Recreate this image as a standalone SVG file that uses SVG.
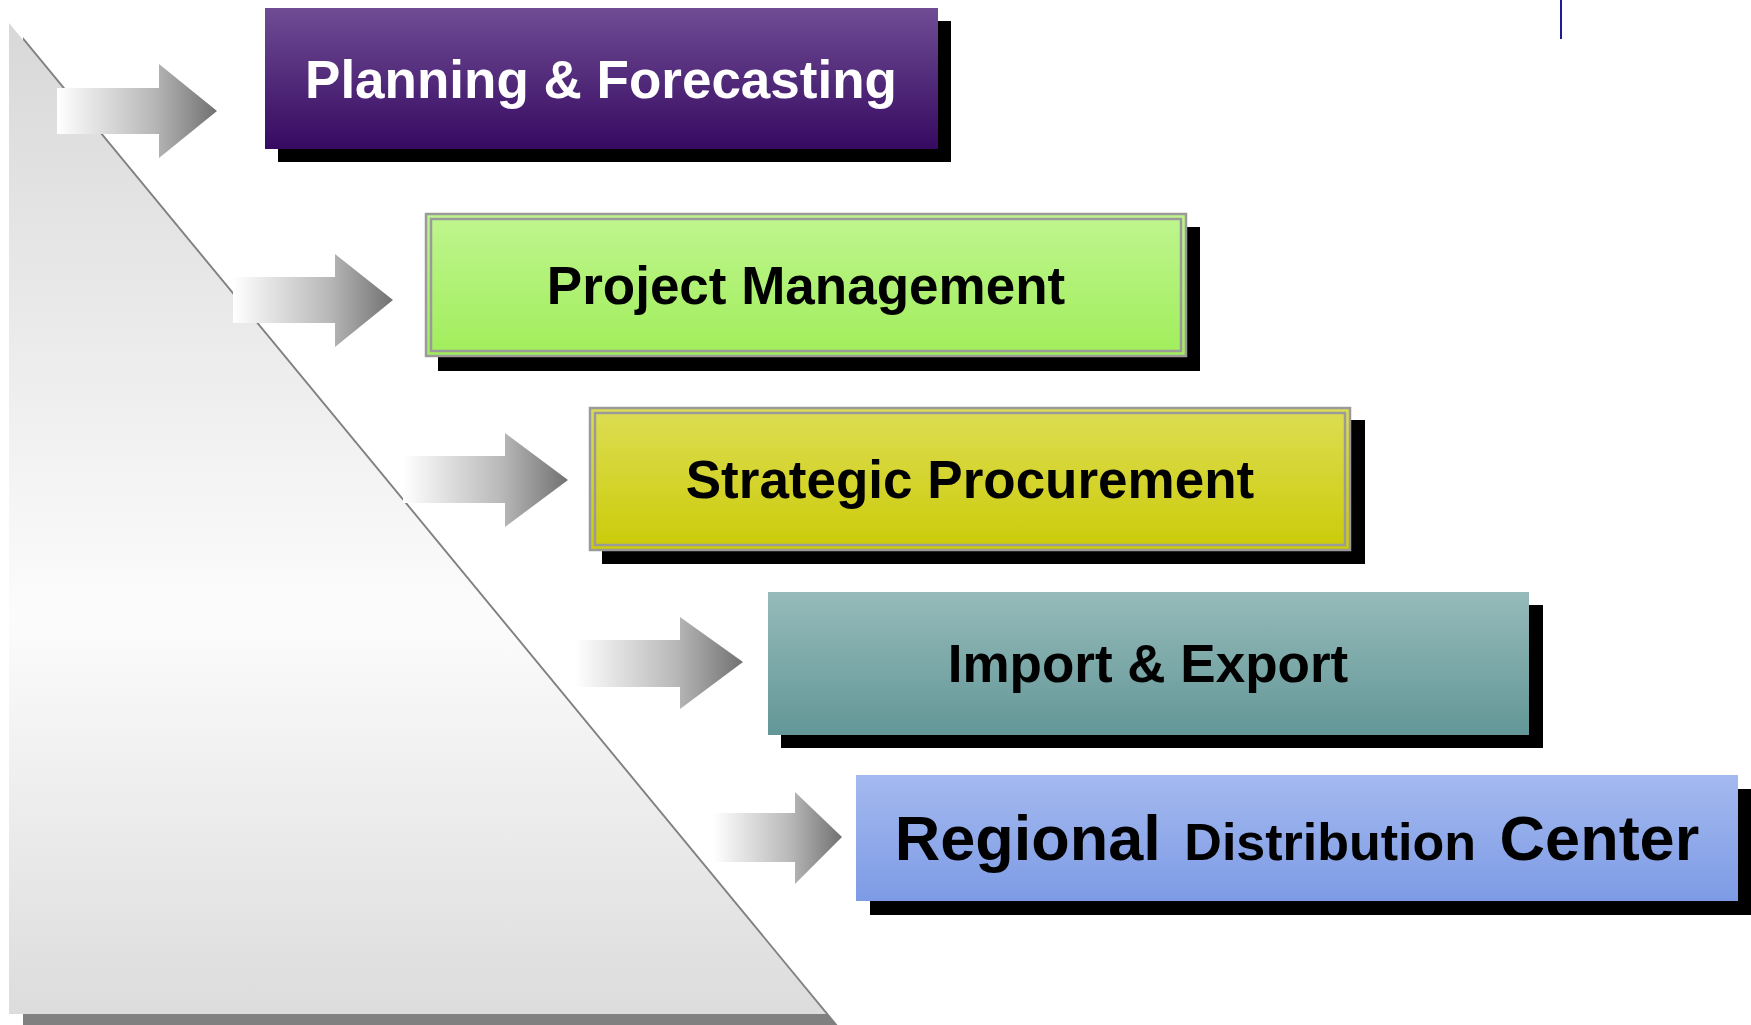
<svg xmlns="http://www.w3.org/2000/svg" width="1751" height="1025" viewBox="0 0 1751 1025">
<style>
.lbl{font-family:"Liberation Sans",Arial,sans-serif;font-weight:bold;font-size:53px;text-anchor:middle;fill:#000}
.shadow{fill:#000}
.frame{fill:none;stroke:#9a9a9a;stroke-width:2.5}
</style>
<defs>
<linearGradient id="gTri" x1="0" y1="0" x2="0" y2="1">
<stop offset="0" stop-color="#d8d8d8"/>
<stop offset="0.6" stop-color="#fcfcfc"/>
<stop offset="1" stop-color="#dcdcdc"/>
</linearGradient>
<linearGradient id="gArrow" x1="0" y1="0" x2="1" y2="0">
<stop offset="0" stop-color="#ffffff"/>
<stop offset="0.6" stop-color="#b8b8b8"/>
<stop offset="1" stop-color="#717171"/>
</linearGradient>
<linearGradient id="gPurple" x1="0" y1="0" x2="0" y2="1">
<stop offset="0" stop-color="#6f4c94"/>
<stop offset="1" stop-color="#360a61"/>
</linearGradient>
<linearGradient id="gGreen" x1="0" y1="0" x2="0" y2="1">
<stop offset="0" stop-color="#bff58f"/>
<stop offset="1" stop-color="#a1ee5b"/>
</linearGradient>
<linearGradient id="gYellow" x1="0" y1="0" x2="0" y2="1">
<stop offset="0" stop-color="#dddd55"/>
<stop offset="1" stop-color="#cbcb08"/>
</linearGradient>
<linearGradient id="gTeal" x1="0" y1="0" x2="0" y2="1">
<stop offset="0" stop-color="#96baba"/>
<stop offset="1" stop-color="#639797"/>
</linearGradient>
<linearGradient id="gBlue" x1="0" y1="0" x2="0" y2="1">
<stop offset="0" stop-color="#a4b9ef"/>
<stop offset="1" stop-color="#7d9be5"/>
</linearGradient>
</defs>
<rect width="1751" height="1025" fill="#ffffff"/>

<g id="pyramid">
<polygon points="23,37 23,1028 840,1028" fill="#808080"/>
<polygon points="9,23 9,1014 826,1014" fill="url(#gTri)"/>
</g>

<g id="connectors">
<polygon fill="url(#gArrow)" points="57,88 159,88 159,64 217,111 159,158 159,134 57,134"/>
<polygon fill="url(#gArrow)" points="233,277 335,277 335,254 393,300 335,347 335,323 233,323"/>
<polygon fill="url(#gArrow)" points="403,456 505,456 505,433 568,480 505,527 505,503 403,503"/>
<polygon fill="url(#gArrow)" points="575,640 680,640 680,617 743,662 680,709 680,687 575,687"/>
<polygon fill="url(#gArrow)" points="713,813 795,813 795,792 842,837 795,884 795,862 713,862"/>
</g>

<g id="node-planning">
<rect class="shadow" x="278" y="21" width="673" height="141"/>
<rect x="265" y="8" width="673" height="141" fill="url(#gPurple)"/>
<text class="lbl" x="601" y="98" style="fill:#ffffff">Planning &amp; Forecasting</text>
</g>

<g id="node-project">
<rect class="shadow" x="438" y="227" width="762" height="144"/>
<rect x="425" y="213" width="762" height="144" fill="url(#gGreen)"/>
<rect class="frame" x="426" y="214" width="760" height="142"/>
<rect class="frame" x="431" y="219" width="750" height="132" stroke-width="2"/>
<text class="lbl" x="806" y="304">Project Management</text>
</g>

<g id="node-procurement">
<rect class="shadow" x="602" y="420" width="763" height="144"/>
<rect x="589" y="407" width="762" height="144" fill="url(#gYellow)"/>
<rect class="frame" x="590" y="408" width="760" height="142"/>
<rect class="frame" x="595" y="413" width="750" height="132" stroke-width="2"/>
<text class="lbl" x="970" y="498">Strategic Procurement</text>
</g>

<g id="node-import">
<rect class="shadow" x="781" y="605" width="762" height="143"/>
<rect x="768" y="592" width="761" height="143" fill="url(#gTeal)"/>
<text class="lbl" x="1148" y="682">Import &amp; Export</text>
</g>

<g id="node-regional">
<rect class="shadow" x="870" y="789" width="882" height="126"/>
<rect x="856" y="775" width="882" height="126" fill="url(#gBlue)"/>
<text class="lbl" x="1297" y="860" style="font-size:63px;word-spacing:6px">Regional <tspan style="font-size:52px">Distribution</tspan> Center</text>
</g>

<line x1="1561" y1="0" x2="1561" y2="39" stroke="#1c1c96" stroke-width="2"/>
</svg>
